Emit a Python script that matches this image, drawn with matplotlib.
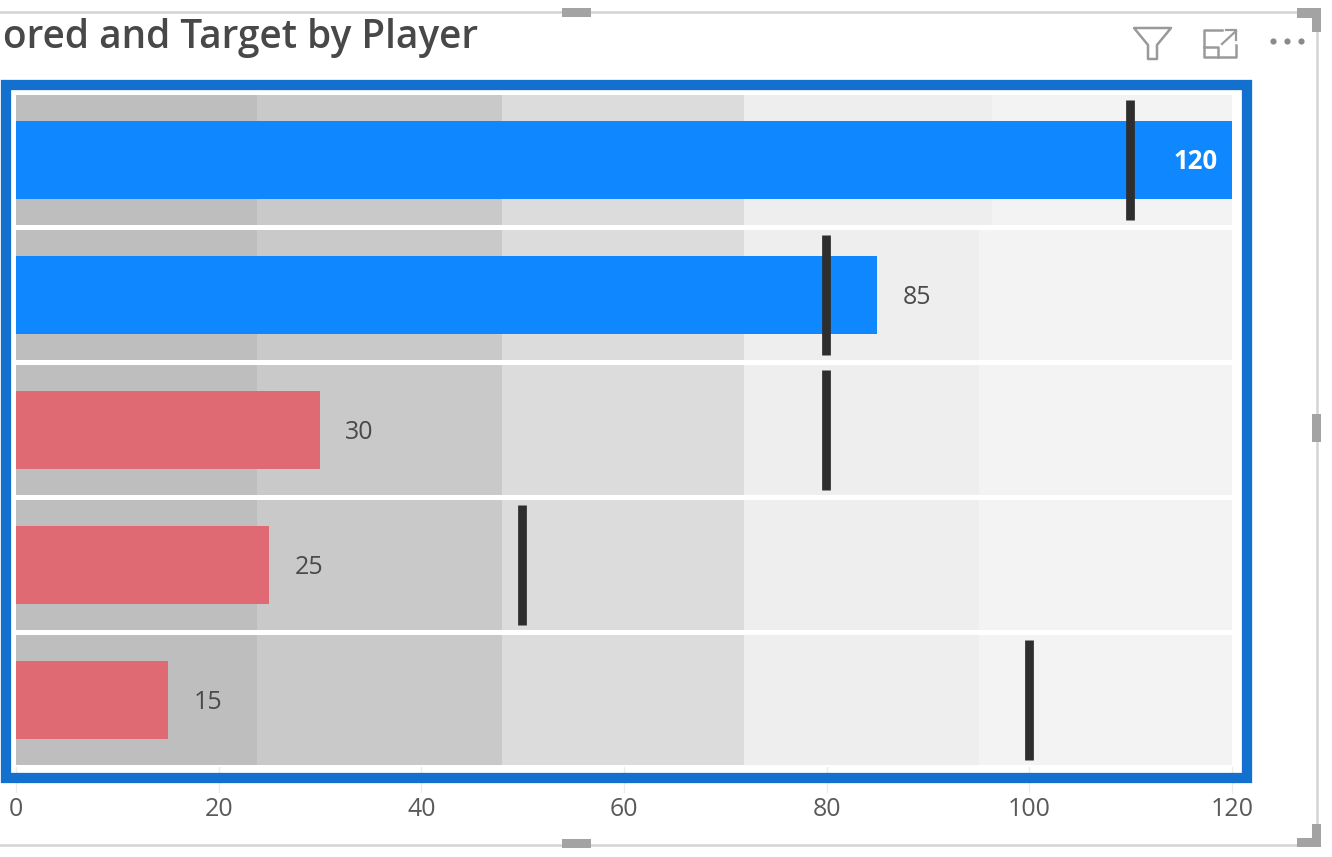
import matplotlib
matplotlib.use("Agg")
import matplotlib.pyplot as plt
from matplotlib.patches import Rectangle, Polygon

W, H = 1332, 857

# values, top row first
scored = [120, 85, 30, 25, 15]
targets = [110, 80, 80, 50, 100]
band_edges = [
    [0, 23.8, 48, 71.8, 96.3, 120],
    [0, 23.8, 48, 71.8, 95, 120],
    [0, 23.8, 48, 71.8, 95, 120],
    [0, 23.8, 48, 71.8, 95, 120],
    [0, 23.8, 48, 71.8, 95, 120],
]
x_ticks = [0, 20, 40, 60, 80, 100, 120]

band_colors = ["#bebebe", "#c9c9c9", "#dcdcdc", "#eeeeee", "#f3f3f3"]
BLUE = "#0f88ff"
RED = "#e06a73"
BORDER = "#1470cf"
TEXT = "#4a4a4a"
FONT = "Open Sans"

fig = plt.figure(figsize=(W / 100, H / 100), dpi=100, facecolor="white")

# main plot, placed in pixels
left, right, top, bottom = 16, 1232, 92.5, 767.5
ax = fig.add_axes([left / W, 1 - bottom / H, (right - left) / W, (bottom - top) / H])
ax.set_xlim(0, 120)
ax.set_ylim(4.5, -0.5)

rows = list(range(len(scored)))
for row in rows:
    edges = band_edges[row]
    for i, color in enumerate(band_colors):
        ax.barh(row, edges[i + 1] - edges[i], left=edges[i], height=0.965,
                color=color, linewidth=0, zorder=1)

    value = scored[row]
    color = BLUE if value >= 80 else RED
    ax.barh(row, value, height=0.575, color=color, linewidth=0, zorder=2)
    ax.vlines(targets[row] - 0.05, row - 0.445, row + 0.445, color="#2e2e2e",
              linewidth=6.3, capstyle="butt", zorder=3)

    if value >= 118:
        ax.text(value - 1.4, row + 0.012, str(value), ha="right", va="center", color="white",
                fontsize=18.5, fontweight="bold", family=FONT, zorder=4)
    else:
        ax.text(value + 2.5, row + 0.02, str(value), ha="left", va="center", color=TEXT,
                fontsize=18, family=FONT, zorder=4)

ax.set_xticks(x_ticks)
ax.set_yticks([])
ax.tick_params(axis="x", length=0, pad=21, labelsize=18, labelcolor="#5a5a5a")
for lab in ax.get_xticklabels():
    lab.set_family(FONT)
for spine in ax.spines.values():
    spine.set_visible(False)

# overlay in pixel coordinates for the frame, selection border and icons
ov = fig.add_axes([0, 0, 1, 1], zorder=5)
ov.set_xlim(0, W)
ov.set_ylim(H, 0)
ov.axis("off")
ov.patch.set_alpha(0)

# faint gridline stubs under the plot
for t in x_ticks:
    px = left + t / 120 * (right - left)
    ov.plot([px, px], [767, 792], color="#ececec", lw=1, zorder=1)

# selection border
ov.add_patch(Rectangle((6, 85), 1241, 693, fill=False, edgecolor=BORDER, linewidth=7.4,
                       joinstyle="miter", zorder=2))

# visual frame
ov.plot([0, 1312], [12, 12], color="#d4d4d4", lw=1.8, zorder=2)
ov.plot([1317, 1317], [12, 845], color="#d4d4d4", lw=1.8, zorder=2)
ov.plot([0, 1317], [845, 845], color="#d4d4d4", lw=1.8, zorder=2)

handle = "#a3a3a3"
ov.add_patch(Rectangle((562, 8), 29, 9, color=handle, linewidth=0, zorder=3))
ov.add_patch(Rectangle((562, 839), 29, 9, color=handle, linewidth=0, zorder=3))
ov.add_patch(Rectangle((1312, 414), 9, 28, color=handle, linewidth=0, zorder=3))
ov.add_patch(Polygon([(1297, 8), (1321, 8), (1321, 32), (1312, 32), (1312, 18), (1297, 18)],
                     color=handle, linewidth=0, zorder=3))
ov.add_patch(Polygon([(1297, 847), (1321, 847), (1321, 824), (1312, 824), (1312, 838), (1297, 838)],
                     color=handle, linewidth=0, zorder=3))

# header icons
icon = "#9a9a9a"
ov.add_patch(Polygon([(1134, 28), (1171, 28), (1157, 45), (1157, 59), (1148, 59), (1148, 45)],
                     fill=False, edgecolor=icon, linewidth=1.8, joinstyle="round"))
ov.plot([1222, 1204, 1204, 1236, 1236], [30, 30, 57, 57, 45], color=icon, lw=1.8)
ov.plot([1204, 1218, 1218], [47, 47, 57], color=icon, lw=1.8)
ov.plot([1222, 1236], [44, 31], color=icon, lw=1.6)
ov.plot([1226, 1236, 1236], [30, 30, 40], color=icon, lw=1.6)
ov.scatter([1273, 1287, 1301], [41, 41, 41], s=20, color="#8a8a8a", linewidth=0)

# title is cut off at the left of the crop
ov.text(3, 38, "ored and Target by Player", ha="left", va="center", color="#484848",
        fontsize=27.9, fontweight="semibold", family=FONT)

fig.savefig("out.png", dpi=100)
